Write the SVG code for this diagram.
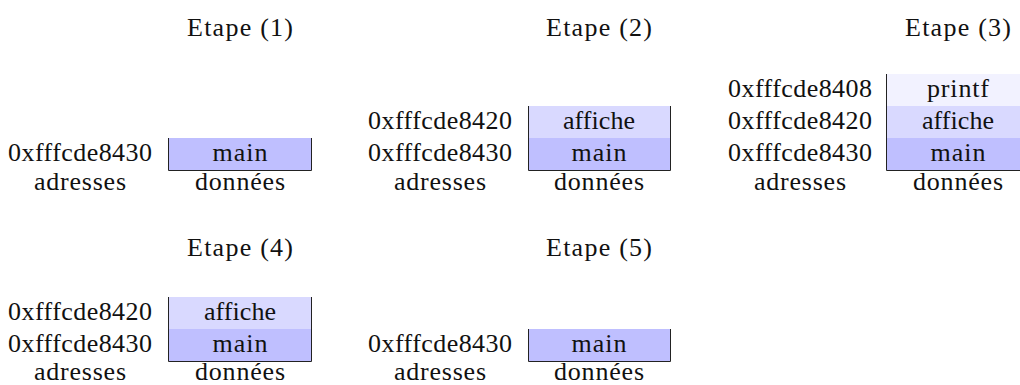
<svg xmlns="http://www.w3.org/2000/svg" width="1020" height="385" viewBox="0 0 1020 385" font-family="'Liberation Serif', 'Times New Roman', Tinos, 'DejaVu Serif', serif">
  <style>
    text { font-family: "Liberation Serif", "Times New Roman", Tinos, "DejaVu Serif", serif; font-size: 26px; fill: #111; text-anchor: middle; }
    .main { fill: #bfbfff; }
    .affiche { fill: #d9d9ff; }
    .printf { fill: #f2f2ff; }
    .edge { stroke: #222; stroke-width: 1; fill: none; }
  </style>

  <!-- Step 1 -->
  <g id="etape1">
    <text x="240" y="36" textLength="106">Etape (1)</text>
    <rect class="main" x="168" y="138" width="144" height="32"/>
    <path class="edge" d="M168.5,138 V170.5 H311.5 V138"/>
    <text x="240" y="161" textLength="55">main</text>
    <text x="80" y="161" textLength="144">0xfffcde8430</text>
    <text x="80" y="190" textLength="92">adresses</text>
    <text x="240" y="190" textLength="90">données</text>
  </g>

  <!-- Step 2 -->
  <g id="etape2">
    <text x="599" y="36" textLength="106">Etape (2)</text>
    <rect class="affiche" x="528" y="106" width="143" height="32"/>
    <rect class="main" x="528" y="138" width="143" height="32"/>
    <path class="edge" d="M528.5,106 V170.5 H670.5 V106"/>
    <text x="599" y="129" textLength="72">affiche</text>
    <text x="599" y="161" textLength="55">main</text>
    <text x="440" y="129" textLength="144">0xfffcde8420</text>
    <text x="440" y="161" textLength="144">0xfffcde8430</text>
    <text x="440" y="190" textLength="92">adresses</text>
    <text x="599" y="190" textLength="90">données</text>
  </g>

  <!-- Step 3 -->
  <g id="etape3">
    <text x="958" y="36" textLength="106">Etape (3)</text>
    <rect class="printf" x="886" y="74" width="144" height="32"/>
    <rect class="affiche" x="886" y="106" width="144" height="32"/>
    <rect class="main" x="886" y="138" width="144" height="32"/>
    <path class="edge" d="M886.5,74 V170.5 H1030"/>
    <text x="958" y="97" textLength="62">printf</text>
    <text x="958" y="129" textLength="72">affiche</text>
    <text x="958" y="161" textLength="55">main</text>
    <text x="800" y="97" textLength="144">0xfffcde8408</text>
    <text x="800" y="129" textLength="144">0xfffcde8420</text>
    <text x="800" y="161" textLength="144">0xfffcde8430</text>
    <text x="800" y="190" textLength="92">adresses</text>
    <text x="958" y="190" textLength="90">données</text>
  </g>

  <!-- Step 4 -->
  <g id="etape4">
    <text x="240" y="256" textLength="106">Etape (4)</text>
    <rect class="affiche" x="168" y="297" width="144" height="32"/>
    <rect class="main" x="168" y="329" width="144" height="32"/>
    <path class="edge" d="M168.5,297 V361.5 H311.5 V297"/>
    <text x="240" y="320" textLength="72">affiche</text>
    <text x="240" y="352" textLength="55">main</text>
    <text x="80" y="320" textLength="144">0xfffcde8420</text>
    <text x="80" y="352" textLength="144">0xfffcde8430</text>
    <text x="80" y="380" textLength="92">adresses</text>
    <text x="240" y="380" textLength="90">données</text>
  </g>

  <!-- Step 5 -->
  <g id="etape5">
    <text x="599" y="256" textLength="106">Etape (5)</text>
    <rect class="main" x="528" y="329" width="143" height="32"/>
    <path class="edge" d="M528.5,329 V361.5 H670.5 V329"/>
    <text x="599" y="352" textLength="55">main</text>
    <text x="440" y="352" textLength="144">0xfffcde8430</text>
    <text x="440" y="380" textLength="92">adresses</text>
    <text x="599" y="380" textLength="90">données</text>
  </g>

  <!-- no connectors in this figure -->
  <g id="connectors"/>
</svg>
